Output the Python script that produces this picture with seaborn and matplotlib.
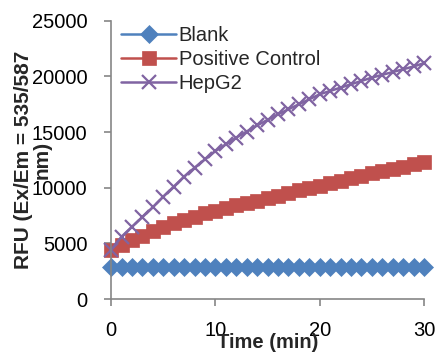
import numpy as np
import pandas as pd
import matplotlib
matplotlib.use("Agg")
import matplotlib.pyplot as plt
import seaborn as sns

# time points (min)
time = list(range(31))

blank = [2900, 2880, 2900, 2890, 2900, 2880, 2900, 2890, 2900, 2880, 2900,
         2890, 2900, 2880, 2900, 2890, 2900, 2880, 2900, 2890, 2900,
         2880, 2900, 2890, 2900, 2880, 2900, 2890, 2900, 2880, 2900]
positive_control = [4400, 4850, 5300, 5700, 6100, 6450, 6800, 7100, 7400, 7700, 7950,
                    8200, 8450, 8650, 8850, 9050, 9300, 9550, 9800, 10000, 10200,
                    10450, 10650, 10850, 11100, 11300, 11500, 11700, 11900, 12100, 12300]
hepg2 = [4400, 5600, 6500, 7350, 8250, 9200, 10100, 11000, 11800, 12550, 13300,
         13900, 14500, 15050, 15600, 16100, 16600, 17050, 17500, 17950, 18400,
         18700, 19000, 19300, 19600, 19900, 20150, 20400, 20650, 20900, 21200]

series_names = ["Blank", "Positive Control", "HepG2"]
colors = ["#4F81BD", "#C0504D", "#8064A2"]
markers = ["D", "s", "x"]
marker_sizes = [9.5, 10, 10]

df = pd.DataFrame({"Time": time, "Blank": blank,
                   "Positive Control": positive_control, "HepG2": hepg2})

sns.set_theme(style="ticks")
plt.rcParams['font.family'] = ['Liberation Sans', 'DejaVu Sans']

fig = plt.figure(figsize=(4.39, 3.59), dpi=100)
ax = fig.add_axes([0.253, 0.167, 0.713, 0.775])

for name, c, m, ms in zip(series_names, colors, markers, marker_sizes):
    sns.lineplot(data=df, x="Time", y=name, ax=ax, color=c, marker=m,
                 markersize=ms, markeredgecolor=c, markeredgewidth=1.6 if m == "x" else 0.5,
                 linewidth=1.8, label=name, clip_on=False)

ax.set_xlim(0, 30)
ax.set_ylim(0, 25000)
ax.set_xticks([0, 10, 20, 30])
ax.set_yticks([0, 5000, 10000, 15000, 20000, 25000])

sns.despine(ax=ax)
for sp in ["left", "bottom"]:
    ax.spines[sp].set_color("#868686")
    ax.spines[sp].set_linewidth(1.2)
ax.tick_params(axis="both", colors="#868686", labelcolor="black", labelsize=14.5,
               length=5, width=1.2, direction="out")
ax.tick_params(axis="x", pad=11)
ax.tick_params(axis="y", pad=12)

ax.set_xlabel("Time (min)", fontsize=14.5, fontweight="bold", va="top")
ax.xaxis.set_label_coords(0.5, -0.123)
ax.set_ylabel("RFU (Ex/Em = 535/587\nnm)", fontsize=15, fontweight="bold",
              multialignment="center", linespacing=0.95)
ax.yaxis.set_label_coords(-0.19, 0.5)

ax.legend(loc="upper left", bbox_to_anchor=(0.02, 0.995), frameon=False,
          fontsize=14.5, handlelength=2.7, handletextpad=0.15, labelspacing=0.25,
          borderpad=0.2, borderaxespad=0)

fig.savefig("out.png", dpi=100)
